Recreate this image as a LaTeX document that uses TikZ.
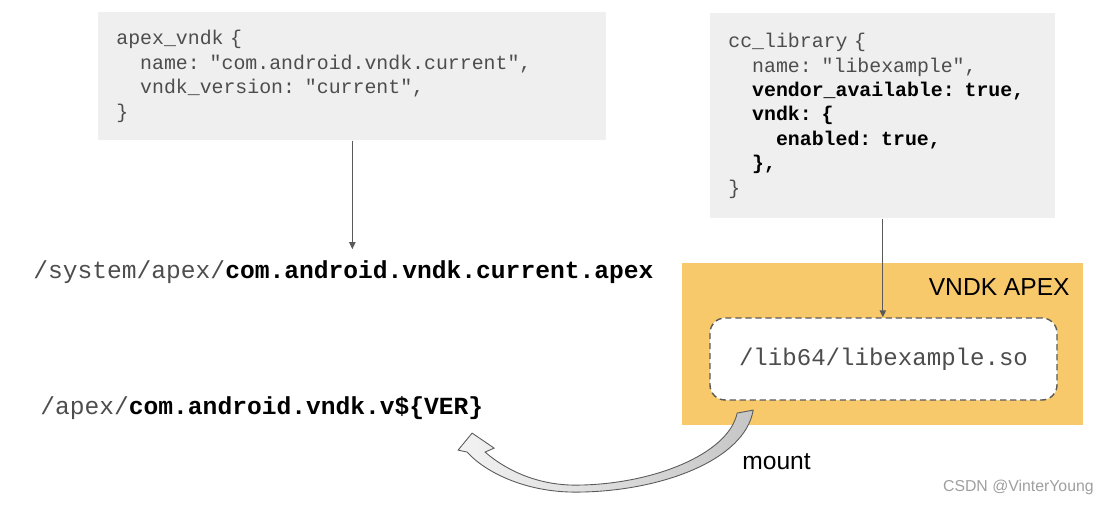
\documentclass[tikz,border=0pt]{standalone}
\usepackage{fontspec}
\setsansfont{Liberation Sans}
\setmonofont{Liberation Mono}
\usepackage{tikz}
\usetikzlibrary{positioning}
\usetikzlibrary{arrows.meta,shapes,backgrounds,fit}

\definecolor{codebg}{HTML}{EFEFEF}
\definecolor{codetxt}{HTML}{4D4D4D}
\definecolor{apexorange}{HTML}{F7C96A}
\definecolor{linegray}{HTML}{5A5A5A}
\newcommand{\ind}{\hspace*{1.2em}}
\newcommand{\bfk}[1]{\textbf{\color{black}#1}}

\tikzset{
  codebox/.style={fill=codebg, align=left, inner sep=0.36cm, anchor=north west,
    text=codetxt, font=\ttfamily\fontsize{11.3}{13.9}\selectfont},
  pathtext/.style={anchor=west, inner xsep=0pt, inner ysep=0.22cm,
    text=codetxt, font=\ttfamily\fontsize{14}{16}\selectfont},
  label/.style={inner sep=0pt, font=\sffamily\fontsize{14}{16}\selectfont},
  flow/.style={draw=linegray, line width=0.7pt, -{Triangle[length=4pt,width=3.6pt]}},
}

\begin{document}
\begin{tikzpicture}
\useasboundingbox (0,0) rectangle (22.22,-10.1);

\node[codebox, text width=9.44cm, minimum height=2.56cm] (apexbox) at (1.96,-0.24)
  {apex\_vndk \{\\
   \ind name: "com.android.vndk.current",\\
   \ind vndk\_version: "current",\\
   \}};
\node[codebox, text width=6.18cm, minimum height=4.1cm] (libbox) at (14.2,-0.26)
  {cc\_library \{\\
   \ind name: "libexample",\\
   \ind\bfk{vendor\_available: true,}\\
   \ind\bfk{vndk: \{}\\
   \ind\ind\bfk{enabled: true,}\\
   \ind\bfk{\},}\\
   \}};

\path (0.66,-5.44) node[pathtext] (syspath) {/system/apex/\bfk{com.android.vndk.current.apex}}
  (0.80,-8.16) node[pathtext] (verpath) {/apex/\bfk{com.android.vndk.v\$\{VER\}}};

\node[fill=apexorange, minimum width=8.02cm, minimum height=3.24cm, inner sep=0] (apexarea) at (17.65,-6.88) {};
\node[label, anchor=east] (apexname) at (21.4,-5.74) {VNDK APEX};
\node[draw=linegray, fill=white, line width=0.8pt, dash pattern=on 3.5pt off 2.2pt,
  rounded corners=0.3cm, minimum width=6.94cm, minimum height=1.64cm,
  text=codetxt, font=\ttfamily\fontsize{13.7}{16}\selectfont] (libso) at (17.67,-7.18) {/lib64/libexample.so};

\draw[flow] (apexbox.south) -- (apexbox.south |- syspath.north);
\draw[flow] (libbox.south) -- (libbox.south |- libso.north);

\begin{scope}[x=0.02cm,y=-0.02cm]
\shade[draw=linegray, line width=0.5pt, left color=gray!10, right color=gray!45]
  (753,410) .. controls (745,460) and (660,492) .. (575,492)
  .. controls (525,492) and (485,472) .. (467,452) -- (458,450) -- (472,433) -- (494,448) -- (485,452)
  .. controls (508,472) and (540,485) .. (575,485)
  .. controls (650,485) and (728,455) .. (737,413) -- cycle;
\end{scope}

\node[label, anchor=west] (mount) at (14.84,-9.24) {mount};
\node[inner sep=0pt, anchor=east, text=gray!75, font=\sffamily\fontsize{9}{10}\selectfont] (mark) at (21.88,-9.74) {CSDN @VinterYoung};
\end{tikzpicture}
\end{document}
